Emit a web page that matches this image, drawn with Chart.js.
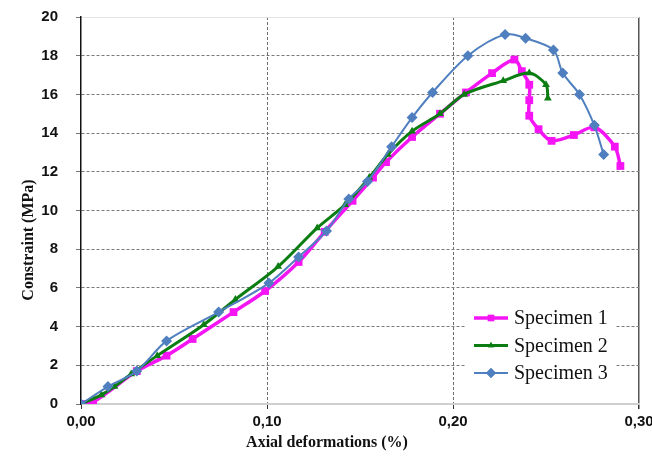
<!DOCTYPE html>
<html>
<head>
<meta charset="utf-8">
<script src="https://cdn.jsdelivr.net/npm/chart.js@4/dist/chart.umd.min.js"></script>
<style>
  html, body { margin: 0; padding: 0; background: #fff; }
  #wrap { width: 652px; height: 461px; }
</style>
</head>
<body>
<div id="wrap"><canvas id="chart"></canvas></div>
<script>
// data (x = axial deformation %, y = constraint MPa)
let spec1X = [0, 0.0065, 0.030, 0.046, 0.060, 0.082, 0.099, 0.117, 0.131, 0.146, 0.157, 0.164, 0.178, 0.193, 0.207, 0.221, 0.233, 0.237, 0.241, 0.241, 0.241, 0.246, 0.253, 0.265, 0.276, 0.287, 0.290];
let spec1Y = [0, 0.1, 1.7, 2.5, 3.36, 4.75, 5.84, 7.34, 8.9, 10.5, 11.7, 12.5, 13.8, 15.0, 16.1, 17.1, 17.8, 17.2, 16.5, 15.7, 14.9, 14.2, 13.6, 13.9, 14.3, 13.3, 12.3];

let spec2X = [0, 0.011, 0.018, 0.027, 0.041, 0.066, 0.083, 0.106, 0.127, 0.142, 0.155, 0.165, 0.178, 0.193, 0.206, 0.227, 0.241, 0.250, 0.251];
let spec2Y = [0, 0.47, 0.9, 1.55, 2.5, 4.1, 5.4, 7.1, 9.1, 10.3, 11.7, 12.9, 14.1, 15.0, 16.0, 16.7, 17.1, 16.5, 15.8];

let spec3X = [0, 0.0145, 0.030, 0.046, 0.074, 0.101, 0.117, 0.132, 0.144, 0.154, 0.167, 0.178, 0.189, 0.208, 0.228, 0.239, 0.254, 0.259, 0.268, 0.276, 0.281];
let spec3Y = [0, 0.9, 1.7, 3.26, 4.75, 6.25, 7.6, 8.94, 10.6, 11.5, 13.3, 14.8, 16.1, 18.0, 19.1, 18.9, 18.3, 17.1, 16.0, 14.4, 12.9];

let seriesNames = ["Specimen 1", "Specimen 2", "Specimen 3"];
let xTickLabels = ["0,00", "0,10", "0,20", "0,30"];
let yTickLabels = ["0", "2", "4", "6", "8", "10", "12", "14", "16", "18", "20"];

let pink = "#f414f4";
let green = "#0b7d12";
let blue = "#4f7fbf";

// zip x and y arrays into points
let toPoints = (xs, ys) => xs.map((x, i) => ({ x: x, y: ys[i] }));

// axis titles and the legend box inside the plot
let overlay = {
  id: "overlay",
  afterDraw(chart) {
    let ctx = chart.ctx;
    ctx.save();

    // x title
    ctx.fillStyle = "#111";
    ctx.font = "bold 16px 'Liberation Serif', 'Times New Roman', serif";
    ctx.textAlign = "center";
    ctx.textBaseline = "middle";
    ctx.fillText("Axial deformations (%)", 327, 443);

    // y title
    ctx.save();
    ctx.translate(29, 240);
    ctx.rotate(-Math.PI / 2);
    ctx.fillText("Constraint (MPa)", 0, 0);
    ctx.restore();

    // legend
    ctx.fillStyle = "#fff";
    ctx.fillRect(466, 300, 150, 86);
    let rows = [
      { name: seriesNames[0], color: pink, width: 3.5, shape: "rect", r: 4.5 },
      { name: seriesNames[1], color: green, width: 3, shape: "triangle", r: 3.5 },
      { name: seriesNames[2], color: blue, width: 2, shape: "rectRot", r: 5 },
    ];
    ctx.font = "20px 'Liberation Serif', 'Times New Roman', serif";
    ctx.textAlign = "left";
    rows.forEach((row, i) => {
      let y = 318 + i * 27.5;
      ctx.strokeStyle = row.color;
      ctx.lineWidth = row.width;
      ctx.beginPath();
      ctx.moveTo(474, y);
      ctx.lineTo(508, y);
      ctx.stroke();
      ctx.fillStyle = row.color;
      Chart.helpers.drawPoint(ctx, { pointStyle: row.shape, radius: row.r, borderWidth: 0 }, 491, y);
      ctx.fill();
      ctx.fillStyle = "#111";
      ctx.fillText(row.name, 514, y + 1);
    });
    ctx.restore();
  },
};

let tickFont = { family: "'Liberation Sans', Arial, sans-serif", size: 15, weight: "bold" };

new Chart(document.getElementById("chart"), {
  type: "scatter",
  data: {
    datasets: [
      {
        label: seriesNames[0],
        data: toPoints(spec1X, spec1Y),
        showLine: true,
        borderColor: pink,
        backgroundColor: pink,
        borderWidth: 3.5,
        pointStyle: "rect",
        pointRadius: 5.5,
        pointBorderWidth: 0,
        tension: 0.3,
        order: 2,
      },
      {
        label: seriesNames[1],
        data: toPoints(spec2X, spec2Y),
        showLine: true,
        borderColor: green,
        backgroundColor: green,
        borderWidth: 3,
        pointStyle: "triangle",
        pointRadius: 4.5,
        pointBorderWidth: 0,
        tension: 0.3,
        order: 1,
      },
      {
        label: seriesNames[2],
        data: toPoints(spec3X, spec3Y),
        showLine: true,
        borderColor: blue,
        backgroundColor: blue,
        borderWidth: 2,
        pointStyle: "rectRot",
        pointRadius: 5.5,
        pointBorderWidth: 0,
        tension: 0.3,
        order: 0,
      },
    ],
  },
  options: {
    responsive: true,
    maintainAspectRatio: false,
    animation: false,
    layout: { padding: { top: 17, right: 13, left: 0, bottom: 0 } },
    plugins: {
      legend: { display: false },
      tooltip: { enabled: false },
    },
    scales: {
      x: {
        type: "linear",
        min: 0,
        max: 0.3,
        ticks: {
          stepSize: 0.1,
          padding: 4,
          color: "#111",
          font: tickFont,
          callback: (v, i) => xTickLabels[i],
        },
        grid: {
          color: (c) => (c.index === 0 ? "rgba(0,0,0,0)" : c.index === 3 ? "#555" : "#6e6e6e"),
          lineWidth: (c) => (c.index === 3 ? 1.5 : 1),
          tickLength: 5,
          tickColor: "#333",
          tickBorderDash: [],
        },
        border: {
          color: "#cfcfcf",
          width: 2,
          dash: (c) => (c.index === 3 ? [] : [3, 2]),
        },
        afterFit: (s) => {
          s.height = 57;
          s.paddingLeft = 0;
          s.paddingRight = 0;
        },
      },
      y: {
        min: 0,
        max: 20,
        ticks: {
          stepSize: 2,
          padding: 18,
          color: "#111",
          font: tickFont,
          callback: (v, i) => yTickLabels[i],
        },
        grid: {
          color: (c) => (c.index === 0 ? "rgba(0,0,0,0)" : c.index === 10 ? "#e2e2e2" : "#7a7a7a"),
          lineWidth: 1,
          tickLength: 5,
          tickColor: "#777",
          tickBorderDash: [],
        },
        border: {
          color: "#111",
          width: 1.5,
          dash: (c) => (c.index === 10 ? [] : [3, 2]),
        },
        afterFit: (s) => {
          s.width = 81;
          s.paddingTop = 0;
          s.paddingBottom = 0;
        },
      },
    },
  },
  plugins: [overlay],
});
</script>
</body>
</html>
